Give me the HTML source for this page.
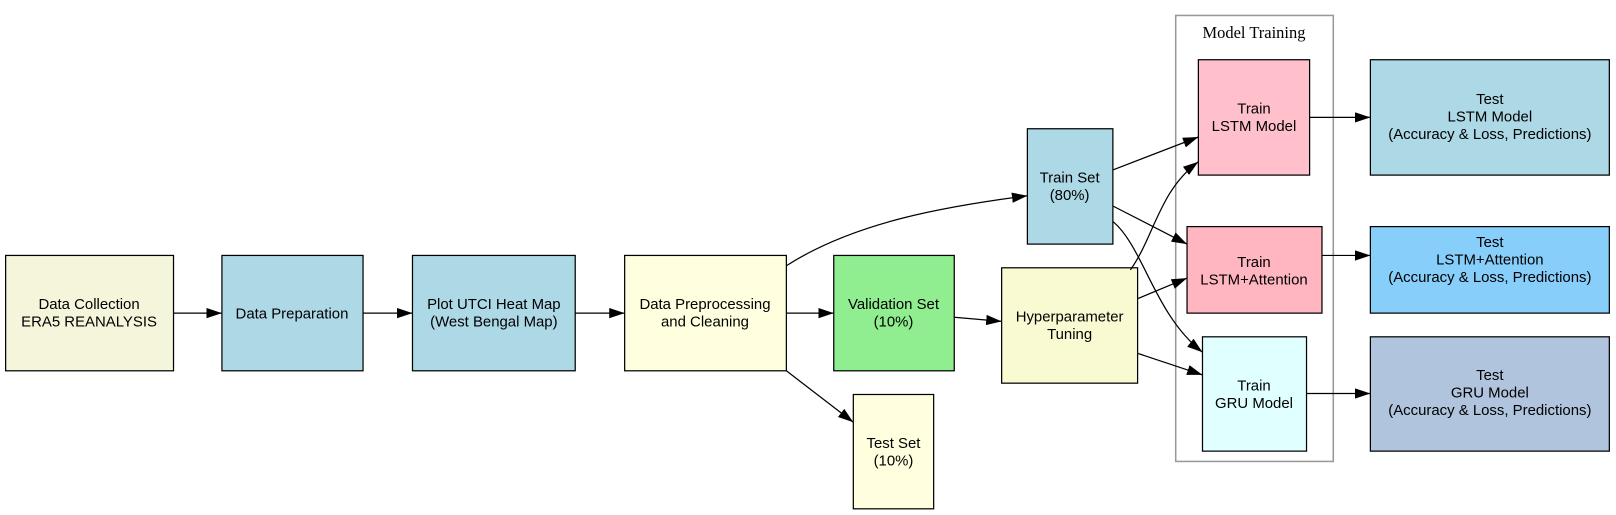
<!DOCTYPE html>
<html><head><meta charset="utf-8"><style>
html,body{margin:0;padding:0;background:#fff;}
svg{display:block;}
text{font-family:"Liberation Sans",Arial,sans-serif;font-size:14.5px;fill:#000;text-anchor:middle;}
.s{font-family:"Liberation Serif",serif;font-size:16px;}
rect{stroke:#000;stroke-width:1.2;}
.e{fill:none;stroke:#000;stroke-width:1.2;}
</style></head><body>
<svg width="1616" height="515" viewBox="0 0 1568 500" xmlns="http://www.w3.org/2000/svg">
<defs><marker id="a" markerUnits="userSpaceOnUse" markerWidth="16" markerHeight="12" refX="15" refY="5" orient="auto"><path d="M0,0 L15,5 L0,10 z" fill="#000"/></marker></defs>
<rect x="1141" y="15" width="153" height="433" fill="none" style="stroke:#999;stroke-width:1.5"/>
<text class="s" x="1217" y="37">Model Training</text>

<rect x="5" y="248" width="163" height="112" fill="#f5f5dc"/>
<text x="86" y="300">Data Collection</text><text x="86" y="317">ERA5 REANALYSIS</text>
<rect x="215" y="248" width="137" height="112" fill="#add8e6"/>
<text x="283" y="309">Data Preparation</text>
<rect x="400" y="248" width="158" height="112" fill="#add8e6"/>
<text x="479" y="300">Plot UTCI Heat Map</text><text x="479" y="317">(West Bengal Map)</text>
<rect x="606" y="248" width="157" height="112" fill="#ffffe0"/>
<text x="684" y="300">Data Preprocessing</text><text x="684" y="317">and Cleaning</text>
<rect x="809" y="248" width="117" height="112" fill="#90ee90"/>
<text x="867" y="300">Validation Set</text><text x="867" y="317">(10%)</text>
<rect x="828" y="383" width="78" height="111" fill="#ffffe0"/>
<text x="867" y="435">Test Set</text><text x="867" y="452">(10%)</text>
<rect x="997" y="125" width="83" height="112" fill="#add8e6"/>
<text x="1038" y="177">Train Set</text><text x="1038" y="194">(80%)</text>
<rect x="972" y="260" width="132" height="112" fill="#fafad2"/>
<text x="1038" y="312">Hyperparameter</text><text x="1038" y="329">Tuning</text>
<rect x="1163" y="58" width="108" height="112" fill="#ffc0cb"/>
<text x="1217" y="110">Train</text><text x="1217" y="127">LSTM Model</text>
<rect x="1152" y="220" width="131" height="84" fill="#ffb6c1"/>
<text x="1217" y="259">Train</text><text x="1217" y="276">LSTM+Attention</text>
<rect x="1167" y="327" width="101" height="111" fill="#e0ffff"/>
<text x="1217" y="379">Train</text><text x="1217" y="396">GRU Model</text>
<rect x="1330" y="58" width="232" height="112" fill="#add8e6"/>
<text x="1446" y="101">Test</text><text x="1446" y="118">LSTM Model</text><text x="1446" y="135">(Accuracy &amp; Loss, Predictions)</text>
<rect x="1330" y="220" width="232" height="84" fill="#87cefa"/>
<text x="1446" y="240">Test</text><text x="1446" y="257">LSTM+Attention</text><text x="1446" y="274">(Accuracy &amp; Loss, Predictions)</text>
<rect x="1330" y="327" width="232" height="111" fill="#b0c4de"/>
<text x="1446" y="369">Test</text><text x="1446" y="386">GRU Model</text><text x="1446" y="403">(Accuracy &amp; Loss, Predictions)</text>

<g marker-end="url(#a)">
<path class="e" d="M168,304 L215,304"/>
<path class="e" d="M352,304 L400,304"/>
<path class="e" d="M558,304 L606,304"/>
<path class="e" d="M763,304 L809,304"/>
<path class="e" d="M763,258 C830,215 920,200 997,190"/>
<path class="e" d="M763,360 L828,410"/>
<path class="e" d="M926,308 L972,312"/>
<path class="e" d="M1080,165 L1163,133"/>
<path class="e" d="M1080,200 L1152,237"/>
<path class="e" d="M1080,215 C1110,240 1120,305 1167,342"/>
<path class="e" d="M1097,262 C1120,230 1125,185 1163,157"/>
<path class="e" d="M1104,290 L1152,270"/>
<path class="e" d="M1104,343 L1167,364"/>
<path class="e" d="M1271,114 L1330,114"/>
<path class="e" d="M1283,248 L1330,248"/>
<path class="e" d="M1268,382 L1330,382"/>
</g>
</svg>
</body></html>
